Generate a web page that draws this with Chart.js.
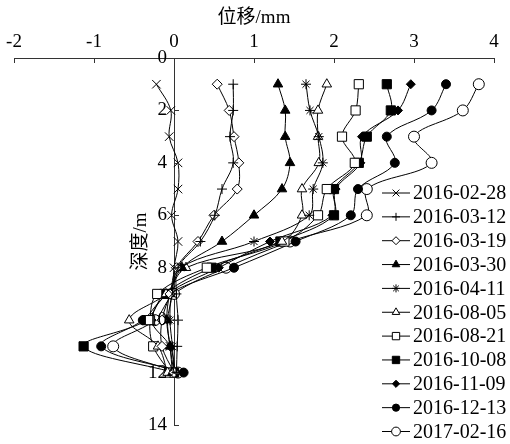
<!DOCTYPE html>
<html>
<head>
<meta charset="utf-8">
<script src="https://cdn.jsdelivr.net/npm/chart.js@4.4.1/dist/chart.umd.min.js"></script>
<style>
  html, body { margin: 0; padding: 0; background: #fff; }
</style>
</head>
<body>
<canvas id="myChart" width="510" height="444"></canvas>
<script>
// 深度 (m)
var depths = [1, 2, 3, 4, 5, 6, 7, 8, 9, 10, 11, 12];

var seriesNames = ['2016-02-28', '2016-03-12', '2016-03-19', '2016-03-30', '2016-04-11', '2016-08-05',
                   '2016-08-21', '2016-10-08', '2016-11-09', '2016-12-13', '2017-02-16'];

// 位移 (mm), 每个深度一个值
var d20160228 = [-0.22, -0.04, -0.06, 0.05, 0.05, -0.03, 0.05, 0.00, -0.02, -0.08, -0.05, 0.00];
var d20160312 = [0.74, 0.74, 0.70, 0.74, 0.60, 0.51, 0.33, 0.05, 0.03, 0.05, 0.04, 0.03];
var d20160319 = [0.54, 0.69, 0.75, 0.81, 0.79, 0.50, 0.30, 0.03, -0.05, -0.15, -0.15, 0.00];
var d20160330 = [1.30, 1.39, 1.39, 1.45, 1.35, 1.00, 0.60, 0.10, -0.05, -0.09, -0.05, -0.02];
var d20160411 = [1.65, 1.70, 1.81, 1.86, 1.74, 1.69, 1.00, 0.08, -0.03, -0.05, -0.02, 0.00];
var d20160805 = [1.91, 1.80, 1.80, 1.81, 1.60, 1.60, 1.35, 0.15, -0.10, -0.56, -0.20, -0.08];
var d20160821 = [2.31, 2.27, 2.10, 2.26, 1.91, 1.80, 1.38, 0.41, -0.21, -0.30, -0.26, -0.05];
var d20161008 = [2.66, 2.71, 2.41, 2.31, 2.00, 2.00, 1.33, 0.47, -0.12, -0.34, -1.13, 0.00];
var d20161109 = [2.96, 2.80, 2.35, 2.33, 2.02, 1.98, 1.20, 0.56, -0.08, -0.28, -0.05, 0.02];
var d20161213 = [3.40, 3.22, 2.66, 2.76, 2.30, 2.21, 1.52, 0.75, -0.07, -0.39, -0.91, 0.12];
var d20170216 = [3.81, 3.61, 3.00, 3.22, 2.41, 2.41, 1.45, 0.65, 0.00, -0.24, -0.76, 0.05];

var seriesValues = [d20160228, d20160312, d20160319, d20160330, d20160411, d20160805,
                    d20160821, d20161008, d20161109, d20161213, d20170216];

var xTicks = [-2, -1, 0, 1, 2, 3, 4];
var yTicks = [0, 2, 4, 6, 8, 10, 12, 14];

// marker styles (only looks)
var markers = [
    { style: 'crossRot', r: 6, fill: '#000' },
    { style: 'cross', r: 5, fill: '#000' },
    { style: 'rectRot', r: 5, fill: '#fff' },
    { style: 'triangle', r: 5.5, fill: '#000' },
    { style: 'star', r: 5, fill: '#000' },
    { style: 'triangle', r: 5.5, fill: '#fff' },
    { style: 'rect', r: 6.5, fill: '#fff' },
    { style: 'rect', r: 6.5, fill: '#000' },
    { style: 'rectRot', r: 4.5, fill: '#000' },
    { style: 'circle', r: 4.5, fill: '#000' },
    { style: 'circle', r: 5.5, fill: '#fff' }
];

var serif = '"Liberation Serif", "Times New Roman", "Noto Sans CJK SC", serif';

var datasets = seriesNames.map(function (name, i) {
    return {
        label: name,
        data: seriesValues[i].map(function (v, k) { return { x: v, y: depths[k] }; }),
        borderColor: '#000',
        borderWidth: 1,
        tension: 0.35,
        pointStyle: markers[i].style,
        pointRadius: markers[i].r,
        pointBackgroundColor: markers[i].fill,
        pointBorderColor: '#000',
        pointBorderWidth: 1,
        fill: false
    };
});

// ticks pointing inward, y labels left of the axis line, y title
var innerTicks = {
    id: 'innerTicks',
    afterDraw: function (chart) {
        var ctx = chart.ctx;
        var xs = chart.scales.x, ys = chart.scales.y;
        var x0 = xs.getPixelForValue(0);
        ctx.save();
        ctx.strokeStyle = '#333';
        ctx.lineWidth = 1;
        ctx.beginPath();
        xTicks.forEach(function (t) {
            var px = Math.round(xs.getPixelForValue(t)) + 0.5;
            ctx.moveTo(px, xs.bottom);
            ctx.lineTo(px, xs.bottom + 5);
        });
        yTicks.forEach(function (t) {
            var py = Math.round(ys.getPixelForValue(t)) + 0.5;
            ctx.moveTo(x0, py);
            ctx.lineTo(x0 + 5, py);
        });
        ctx.stroke();

        ctx.fillStyle = '#000';
        ctx.font = '19px ' + serif;
        ctx.textAlign = 'right';
        ctx.textBaseline = 'middle';
        yTicks.forEach(function (t) {
            ctx.fillText(String(t), x0 - 7, ys.getPixelForValue(t));
        });

        // y title, bottom to top
        ctx.textAlign = 'center';
        ctx.translate(x0 - 33, (chart.chartArea.top + chart.chartArea.bottom) / 2);
        ctx.rotate(-Math.PI / 2);
        ctx.fillText('深度/m', 0, 0);
        ctx.restore();
    }
};

// legend: line with marker in the middle
var lineLegend = {
    id: 'lineLegend',
    afterDraw: function (chart) {
        var ctx = chart.ctx;
        var left = 382, top = 193, step = 23.85;
        ctx.save();
        ctx.font = '20px ' + serif;
        ctx.textBaseline = 'middle';
        ctx.textAlign = 'left';
        chart.data.datasets.forEach(function (ds, i) {
            var y = top + i * step;
            ctx.strokeStyle = '#000';
            ctx.lineWidth = 1;
            ctx.beginPath();
            ctx.moveTo(left, y);
            ctx.lineTo(left + 28, y);
            ctx.stroke();
            ctx.fillStyle = markers[i].fill;
            Chart.helpers.drawPoint(ctx, {
                pointStyle: markers[i].style,
                radius: markers[i].r * 0.8,
                rotation: 0,
                borderWidth: 1
            }, left + 14, y);
            ctx.fillStyle = '#000';
            ctx.fillText(ds.label, left + 31, y + 1);
        });
        ctx.restore();
    }
};

var ctx = document.getElementById('myChart').getContext('2d');

var myChart = new Chart(ctx, {
    type: 'line',
    data: { datasets: datasets },
    options: {
        responsive: false,
        animation: false,
        layout: { padding: { left: 14, right: 16, top: 0, bottom: 19 } },
        plugins: {
            legend: { display: false },
            tooltip: { enabled: false }
        },
        scales: {
            x: {
                type: 'linear',
                position: 'top',
                min: -2,
                max: 4,
                afterFit: function (s) { s.height = 58; s.paddingLeft = 0; s.paddingRight = 0; },
                afterBuildTicks: function (s) { s.ticks = xTicks.map(function (v) { return { value: v }; }); },
                grid: { drawOnChartArea: false, drawTicks: false },
                border: { color: '#333', width: 1 },
                ticks: { color: '#000', padding: 5, font: { family: serif, size: 19 } },
                title: {
                    display: true,
                    text: '位移/mm',
                    color: '#000',
                    padding: { top: 7, bottom: 0 },
                    font: { family: serif, size: 19 }
                }
            },
            y: {
                type: 'linear',
                position: { x: 0 },
                reverse: true,
                min: 0,
                max: 14,
                afterFit: function (s) { s.paddingTop = 0; s.paddingBottom = 0; },
                afterBuildTicks: function (s) { s.ticks = yTicks.map(function (v) { return { value: v }; }); },
                grid: { drawOnChartArea: false, drawTicks: false },
                border: { color: '#333', width: 1 },
                ticks: { display: false }
            }
        }
    },
    plugins: [innerTicks, lineLegend]
});
</script>
</body>
</html>
